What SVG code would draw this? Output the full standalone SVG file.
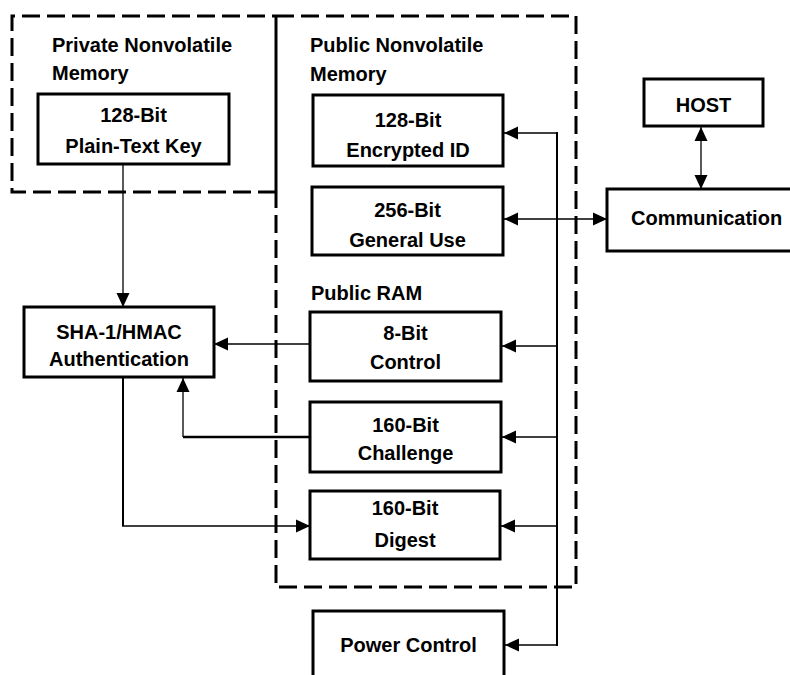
<svg xmlns="http://www.w3.org/2000/svg" width="790" height="675" viewBox="0 0 790 675">
<defs>
<marker id="ah" markerUnits="userSpaceOnUse" markerWidth="14" markerHeight="14" viewBox="0 0 14 14" refX="14" refY="7" orient="auto-start-reverse">
<path d="M0,0.5 L14,7 L0,13.5 Z" fill="#000"/>
</marker>
</defs>
<style>
.box{fill:#fff;stroke:#000;stroke-width:3}
.dash{fill:none;stroke:#000;stroke-width:3;stroke-dasharray:18 7}
.t{font-family:"Liberation Sans",Arial,sans-serif;font-weight:bold;font-size:20px;fill:#000}
.c{text-anchor:middle}
.ln{fill:none;stroke:#000;stroke-width:1.3}
.thk{fill:none;stroke:#000;stroke-width:2.5}
</style>
<rect width="790" height="675" fill="#fff"/>
<g id="private-memory">
<path class="dash" d="M276,192 L12,192 L12,16 L276,16"/>
<line x1="276" y1="16" x2="276" y2="192" stroke="#000" stroke-width="3"/>
<text class="t" x="52" y="52">Private Nonvolatile</text>
<text class="t" x="52" y="80">Memory</text>
</g>
<g id="public-memory">
<path class="dash" d="M276,16 L576,16 L576,587 L276,587 L276,192"/>
<text class="t" x="310" y="52">Public Nonvolatile</text>
<text class="t" x="310" y="81">Memory</text>
<text class="t" x="311" y="300">Public RAM</text>
</g>
<g id="connectors">
<line class="ln" x1="123" y1="164" x2="123" y2="307" marker-end="url(#ah)"/>
<line class="ln" x1="310" y1="344" x2="214" y2="344" marker-end="url(#ah)"/>
<line class="thk" x1="310" y1="437" x2="183" y2="437"/>
<line class="ln" x1="183" y1="437" x2="183" y2="378" marker-end="url(#ah)"/>
<line stroke="#000" stroke-width="2" x1="123" y1="377" x2="123" y2="526"/>
<line class="ln" x1="122" y1="526" x2="310" y2="526" marker-end="url(#ah)"/>
<line stroke="#000" stroke-width="2" x1="557" y1="132" x2="557" y2="646"/>
<line class="ln" x1="557" y1="133" x2="504" y2="133" marker-end="url(#ah)"/>
<line class="ln" x1="557" y1="346" x2="502" y2="346" marker-end="url(#ah)"/>
<line class="ln" x1="557" y1="437" x2="502" y2="437" marker-end="url(#ah)"/>
<line class="ln" x1="557" y1="526" x2="501" y2="526" marker-end="url(#ah)"/>
<line class="ln" x1="557" y1="645" x2="505" y2="645" marker-end="url(#ah)"/>
<line class="ln" x1="504" y1="219" x2="607" y2="219" marker-start="url(#ah)" marker-end="url(#ah)"/>
<line class="ln" x1="701" y1="127" x2="701" y2="189" marker-start="url(#ah)" marker-end="url(#ah)"/>
</g>
<g id="plain-text-key">
<rect class="box" x="38" y="94" width="191" height="70"/>
<text class="t c" x="133.5" y="122">128-Bit</text>
<text class="t c" x="133.5" y="153">Plain-Text Key</text>
</g>
<g id="encrypted-id">
<rect class="box" x="313" y="95" width="190" height="71"/>
<text class="t c" x="408" y="127">128-Bit</text>
<text class="t c" x="408" y="157">Encrypted ID</text>
</g>
<g id="general-use">
<rect class="box" x="312" y="187" width="191" height="68"/>
<text class="t c" x="407.5" y="217">256-Bit</text>
<text class="t c" x="407.5" y="247">General Use</text>
</g>
<g id="host">
<rect class="box" x="644" y="79" width="119" height="47"/>
<text class="t c" x="703.5" y="112">HOST</text>
</g>
<g id="communication">
<rect class="box" x="607" y="189" width="200" height="62"/>
<text class="t" x="631" y="225">Communication</text>
</g>
<g id="sha">
<rect class="box" x="24" y="307" width="190" height="70"/>
<text class="t c" x="119" y="339">SHA-1/HMAC</text>
<text class="t c" x="119" y="366">Authentication</text>
</g>
<g id="control">
<rect class="box" x="310" y="312" width="191" height="69"/>
<text class="t c" x="405.5" y="340">8-Bit</text>
<text class="t c" x="405.5" y="369">Control</text>
</g>
<g id="challenge">
<rect class="box" x="310" y="402" width="191" height="70"/>
<text class="t c" x="405.5" y="432">160-Bit</text>
<text class="t c" x="405.5" y="460">Challenge</text>
</g>
<g id="digest">
<rect class="box" x="310" y="491" width="190" height="68"/>
<text class="t c" x="405" y="515">160-Bit</text>
<text class="t c" x="405" y="547">Digest</text>
</g>
<g id="power-control">
<rect class="box" x="313" y="611" width="191" height="80"/>
<text class="t c" x="408.5" y="652">Power Control</text>
</g>
</svg>
